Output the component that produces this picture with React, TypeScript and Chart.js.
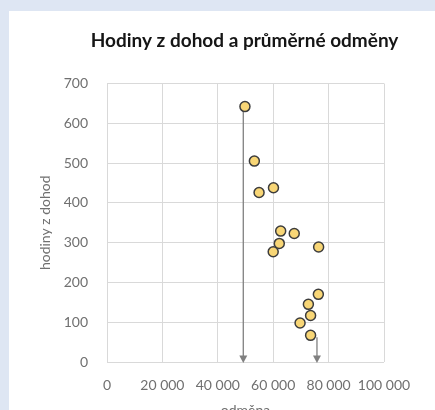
import React, { useEffect, useRef } from "react";
import { Chart, registerables } from "chart.js";

Chart.register(...registerables);

// Average reward (CZK) and hours worked under agreements
const odmena = [49800, 53200, 54900, 60100, 62700, 67600, 62200, 60000, 76400, 76300, 72700, 73500, 69700, 73500];
const hodiny = [642, 505, 426, 438, 329, 323, 298, 277, 289, 170, 145, 117, 98, 67];

// Downward arrows: [x, fromY]
const arrowX = [49200, 75800];
const arrowFromY = [642, 62];

const xTicks = [0, 20000, 40000, 60000, 80000, 100000];
const yTicks = [0, 100, 200, 300, 400, 500, 600, 700];

const chartTitle = "Hodiny z dohod a průměrné odměny";
const xTitle = "odměna";
const yTitle = "hodiny z dohod";

const FONT = "Lato, 'Open Sans', sans-serif";

const W = 471;
const H = 420;

const fmt = (v: number) => String(v).replace(/\B(?=(\d{3})+(?!\d))/g, " ");

const arrowPlugin = {
  id: "arrows",
  beforeDatasetsDraw(chart: any) {
    const { ctx, scales } = chart;
    const xs = scales.x;
    const ys = scales.y;
    ctx.save();
    ctx.strokeStyle = "#808080";
    ctx.fillStyle = "#808080";
    ctx.lineWidth = 1.3;
    arrowX.forEach((xv, i) => {
      const px = xs.getPixelForValue(xv);
      const top = ys.getPixelForValue(arrowFromY[i]);
      const tip = ys.getPixelForValue(0) + 1;
      ctx.beginPath();
      ctx.moveTo(px, top);
      ctx.lineTo(px, tip - 6);
      ctx.stroke();
      ctx.beginPath();
      ctx.moveTo(px - 4, tip - 7.5);
      ctx.lineTo(px + 4, tip - 7.5);
      ctx.lineTo(px, tip);
      ctx.closePath();
      ctx.fill();
    });
    ctx.restore();
  },
};

export default function App() {
  const ref = useRef<HTMLCanvasElement | null>(null);

  useEffect(() => {
    if (!ref.current) return;
    const chart = new Chart(ref.current, {
      type: "scatter",
      data: {
        datasets: [
          {
            data: odmena.map((x, i) => ({ x, y: hodiny[i] })),
            backgroundColor: "#f8d676",
            borderColor: "#3d3d3d",
            borderWidth: 1.5,
            pointRadius: 5,
          },
        ],
      },
      options: {
        animation: false,
        responsive: false,
        devicePixelRatio: 1,
        layout: { padding: 0 },
        plugins: {
          legend: { display: false },
          tooltip: { enabled: false },
          title: {
            display: true,
            text: chartTitle,
            color: "#151515",
            font: { family: FONT, size: 19, weight: "bold" },
            padding: { top: 18.6, bottom: 31.1 },
          },
        },
        scales: {
          x: {
            type: "linear",
            min: 0,
            max: 100000,
            afterBuildTicks: (s: any) => {
              s.ticks = xTicks.map((value) => ({ value }));
            },
            afterFit: (s: any) => {
              s.height = 69;
            },
            grid: { color: "#d9d9d9", drawTicks: false },
            border: { display: false },
            ticks: {
              color: "#707070",
              padding: 15,
              maxRotation: 0,
              autoSkip: false,
              font: { family: FONT, size: 14 },
              callback: (v: any) => fmt(Number(v)),
            },
            title: {
              display: true,
              text: xTitle,
              color: "#707070",
              font: { family: FONT, size: 14 },
              padding: { top: 0, bottom: 12.5 },
            },
          },
          y: {
            type: "linear",
            min: 0,
            max: 700,
            afterBuildTicks: (s: any) => {
              s.ticks = yTicks.map((value) => ({ value }));
            },
            afterFit: (s: any) => {
              s.width = 98;
            },
            grid: { color: "#d9d9d9", drawTicks: false },
            border: { display: false },
            ticks: {
              color: "#707070",
              padding: 19,
              font: { family: FONT, size: 14 },
              callback: (v: any) => fmt(Number(v)),
            },
            title: {
              display: true,
              text: yTitle,
              color: "#707070",
              font: { family: FONT, size: 14 },
              padding: { top: 27.6, bottom: 0 },
            },
          },
          // empty right-hand margin beside the plot
          yRight: {
            type: "linear",
            position: "right",
            min: 0,
            max: 700,
            afterFit: (s: any) => {
              s.width = W - 375;
            },
            grid: { display: false, drawTicks: false },
            border: { display: false },
            ticks: { display: false },
          },
        },
      },
      plugins: [arrowPlugin],
    });
    return () => chart.destroy();
  }, []);

  return (
    <div
      style={{
        position: "fixed",
        left: 0,
        top: 0,
        width: 435,
        height: 410,
        overflow: "hidden",
        background: "#dee6f3",
      }}
    >
      <div
        style={{
          position: "absolute",
          left: 9,
          top: 11,
          width: W,
          height: H,
          background: "#ffffff",
        }}
      >
        <canvas ref={ref} width={W} height={H} style={{ display: "block", width: W, height: H }} />
      </div>
    </div>
  );
}
